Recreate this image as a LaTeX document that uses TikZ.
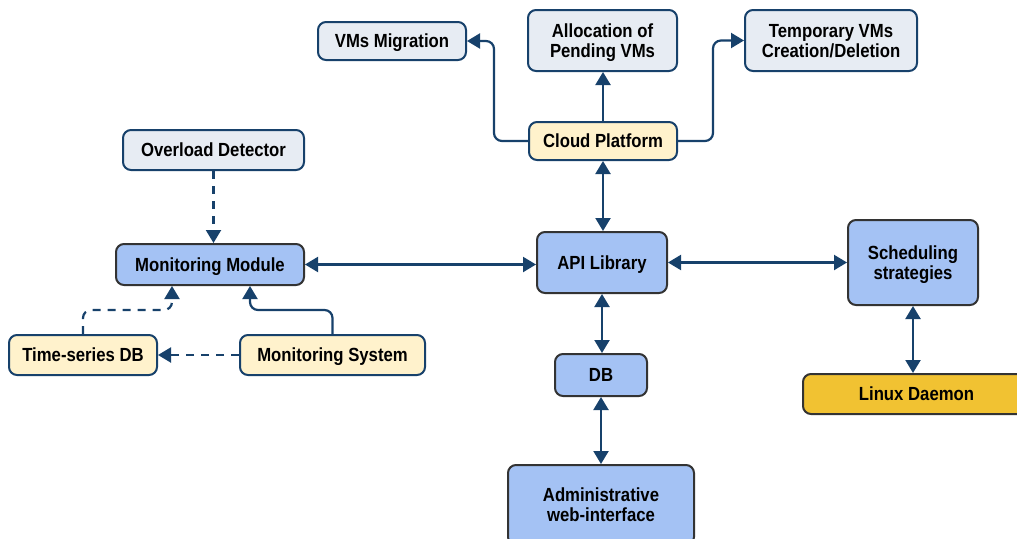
\documentclass[tikz,border=0pt]{standalone}
\usepackage{fontspec}
\setmainfont{Liberation Sans}[FakeStretch=0.88]
\usetikzlibrary{arrows.meta,calc}
\definecolor{navy}{HTML}{17416B}
\definecolor{grayfill}{HTML}{E7ECF3}
\definecolor{bluefill}{HTML}{A4C2F4}
\definecolor{yelfill}{HTML}{FFF2CC}
\definecolor{gold}{HTML}{F1C232}
\definecolor{darkedge}{HTML}{333333}
\begin{document}
\begin{tikzpicture}[x=1pt,y=-1pt,
  box/.style={rectangle, rounded corners=8pt, line width=2pt, align=center, inner sep=0pt,
    text depth=0pt, font=\fontsize{19}{20}\selectfont\bfseries},
  graybox/.style={box, draw=navy, fill=grayfill},
  bluebox/.style={box, draw=darkedge, fill=bluefill},
  yelbox/.style={box, draw=navy, fill=yelfill},
  goldbox/.style={box, draw=darkedge, fill=gold},
  arr/.style={draw=navy, line width=2.2pt, -{Triangle[width=15pt,length=13pt]}},
  darr/.style={draw=navy, line width=2.2pt, {Triangle[width=15pt,length=13pt]}-{Triangle[width=15pt,length=13pt]}},
  dasharr/.style={arr, dash pattern=on 8pt off 7pt}
]
\useasboundingbox (0,0) rectangle (1017,538);
% nodes
\node[graybox, minimum width=148pt, minimum height=38pt] (vm) at (392,41) {VMs Migration};
\node[graybox, minimum width=149pt, minimum height=61pt] (alloc) at (602.5,40.5) {Allocation of\\Pending VMs};
\node[graybox, minimum width=172pt, minimum height=61pt] (tmp) at (831,40.5) {Temporary VMs\\Creation/Deletion};
\node[yelbox, minimum width=148pt, minimum height=38pt] (cp) at (603,141) {Cloud Platform};
\node[graybox, minimum width=181pt, minimum height=40pt] (od) at (213.5,150) {Overload Detector};
\node[bluebox, minimum width=188pt, minimum height=41pt] (mm) at (210,264.5) {Monitoring Module};
\node[bluebox, minimum width=130pt, minimum height=61pt] (api) at (602,262.5) {API Library};
\node[bluebox, minimum width=130pt, minimum height=85pt] (sched) at (913,262.5) {Scheduling\\strategies};
\node[yelbox, minimum width=148pt, minimum height=40pt] (ts) at (83,355) {Time-series DB};
\node[yelbox, minimum width=185pt, minimum height=40pt] (ms) at (332.5,355) {Monitoring System};
\node[bluebox, minimum width=92pt, minimum height=42pt] (db) at (601,375) {DB};
\node[goldbox, minimum width=227pt, minimum height=40pt] (linux) at (916.5,394) {Linux Daemon};
\node[bluebox, minimum width=186pt, minimum height=80pt] (admin) at (601,505) {Administrative\\web-interface};
% connectors
\draw[arr, rounded corners=8pt] (cp.west) -- ++(-34,0) |- (vm.east);
\draw[arr] (cp.north) -- (cp.north |- alloc.south);
\draw[arr, rounded corners=8pt] (cp.east) -- ++(35,0) |- (tmp.west);
\draw[darr] (cp.south) -- (cp.south |- api.north);
\draw[darr] (mm.east) -- (mm.east -| api.west);
\draw[darr] (api.east) -- (api.east -| sched.west);
\draw[darr] (api.south) -- (api.south |- db.north);
\draw[darr] (db.south) -- (db.south |- admin.north);
\draw[darr] (sched.south) -- (sched.south |- linux.north);
\draw[dasharr] (od.south) -- (od.south |- mm.north);
\draw[dasharr] (ms.west) -- (ts.east);
\draw[dasharr, rounded corners=8pt] (ts.north) -- ++(0,-24) -| ([xshift=-38pt]mm.south);
\draw[arr, rounded corners=8pt] (ms.north) -- ++(0,-24) -| ([xshift=40pt]mm.south);
\end{tikzpicture}
\end{document}
